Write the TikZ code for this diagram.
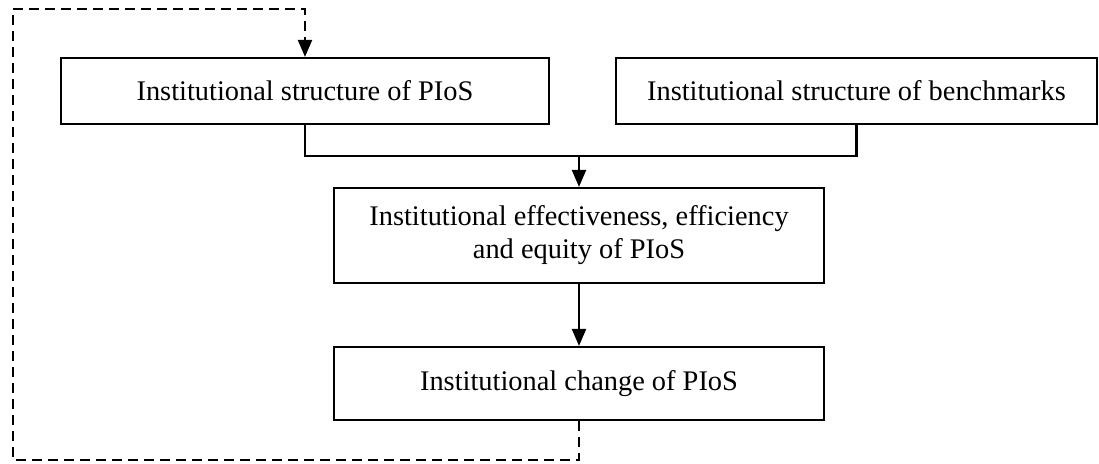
\documentclass[tikz,border=0pt]{standalone}
\usepackage{fontspec}
\setmainfont{Liberation Serif}
\usetikzlibrary{arrows.meta}

\begin{document}
\begin{tikzpicture}[
    line width=1.1pt,
    >={Triangle[width=7pt,length=8.5pt]},
    pbox/.style={draw, rectangle, inner sep=0pt, align=center,
      font=\fontsize{14.2}{16.5}\selectfont},
    loopline/.style={dash pattern=on 5pt off 3pt}
  ]
  \useasboundingbox (0pt,0pt) rectangle (549.5pt,-231.5pt);

  \node[pbox, minimum width=244pt, minimum height=33pt]
    (struct) at (152.5pt,-45.5pt) {Institutional structure of PIoS};
  \node[pbox, minimum width=240.5pt, minimum height=33pt]
    (bench) at (856.5pt/2,-45.5pt) {Institutional structure of benchmarks};
  \node[pbox, minimum width=245pt, minimum height=47.5pt]
    (effect) at (289.5pt,-117.75pt)
    {Institutional effectiveness, efficiency\\ and equity of PIoS};
  \node[pbox, minimum width=245pt, minimum height=36.5pt]
    (change) at (289.5pt,-191.75pt) {Institutional change of PIoS};

  \coordinate (join) at (289.5pt,-78pt);
  \coordinate (loopbl) at (6.5pt,-230pt);
  \coordinate (looptl) at (6.5pt,-4.5pt);

  \draw (struct.south) |- (join) -| (bench.south); %% both structures meet
  \draw[->] (join) -- (effect.north);
  \draw[->] (effect.south) -- (change.north);

  %% feedback loop
  \draw[->, loopline] (change.south) |- (loopbl) -- (looptl) -| (struct.north);
\end{tikzpicture}
\end{document}
